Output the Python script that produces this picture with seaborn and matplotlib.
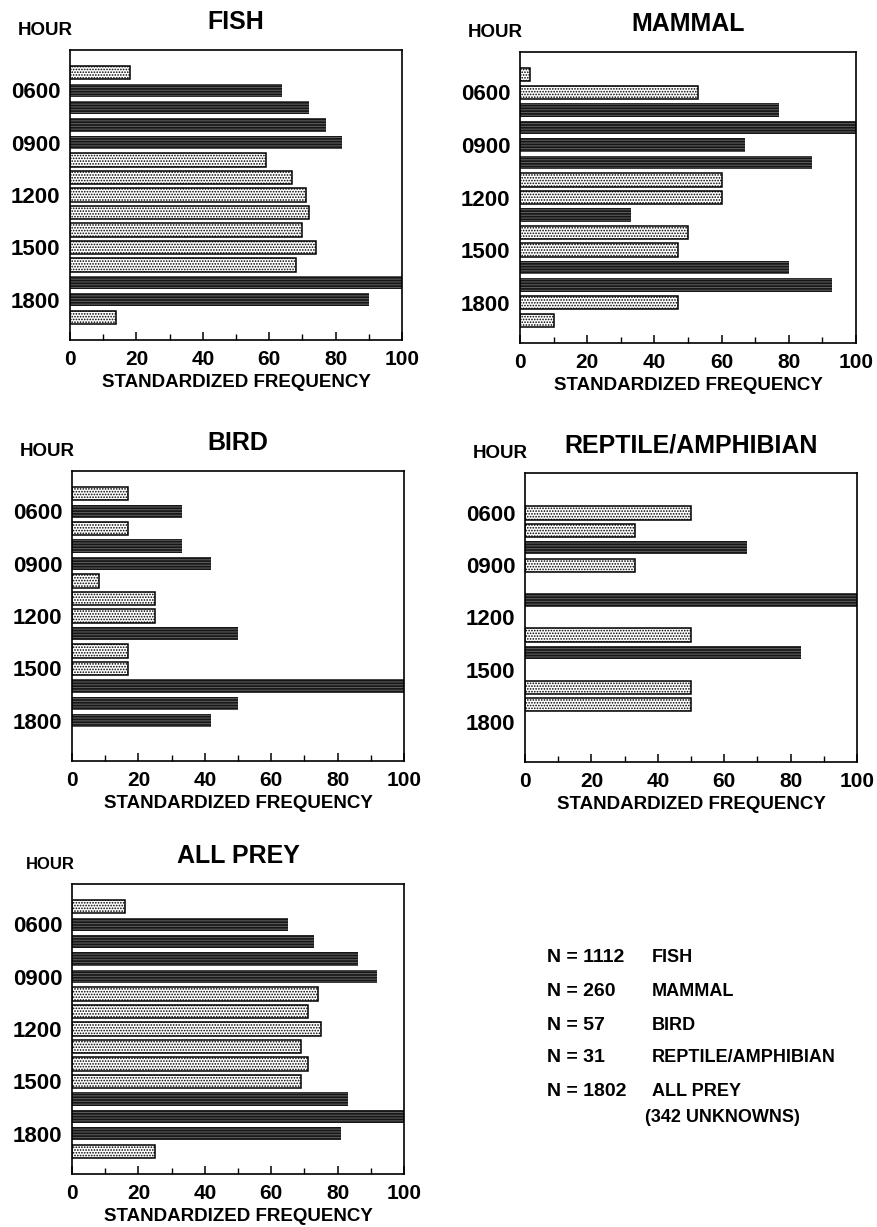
import numpy as np
import pandas as pd
import matplotlib
matplotlib.use("Agg")
import matplotlib.pyplot as plt
from matplotlib.ticker import MultipleLocator
import seaborn as sns

hours = ["0500", "0600", "0700", "0800", "0900", "1000", "1100", "1200",
         "1300", "1400", "1500", "1600", "1700", "1800", "1900"]
tick_hours = ["0600", "0900", "1200", "1500", "1800"]

# standardized frequency per hour (None = no bar); shade: D = dark, L = light
fish_vals = [18, 64, 72, 77, 82, 59, 67, 71, 72, 70, 74, 68, 100, 90, 14]
fish_shade = list("LDDDDLLLLLLLDDL")
mammal_vals = [3, 53, 77, 100, 67, 87, 60, 60, 33, 50, 47, 80, 93, 47, 10]
mammal_shade = list("LLDDDDLLDLLDDLL")
bird_vals = [17, 33, 17, 33, 42, 8, 25, 25, 50, 17, 17, 100, 50, 42, None]
bird_shade = list("LDLDDLLLDLLDDDL")
rept_vals = [None, 50, 33, 67, 33, None, 100, None, 50, 83, None, 50, 50, None, None]
rept_shade = list("LLLDLLDLLDLLLLL")
all_vals = [16, 65, 73, 86, 92, 74, 71, 75, 69, 71, 69, 83, 100, 81, 25]
all_shade = list("LDDDDLLLLLLDDDL")

titles = ["FISH", "MAMMAL", "BIRD", "REPTILE/AMPHIBIAN", "ALL PREY"]
series = [(fish_vals, fish_shade), (mammal_vals, mammal_shade),
          (bird_vals, bird_shade), (rept_vals, rept_shade),
          (all_vals, all_shade)]

n_counts = ["N = 1112", "N = 260", "N = 57", "N = 31", "N = 1802"]
n_names = ["FISH", "MAMMAL", "BIRD", "REPTILE/AMPHIBIAN", "ALL PREY"]
unknown_note = "(342 UNKNOWNS)"

sns.set_theme(style="white")
plt.rcParams["font.family"] = ["Liberation Sans", "DejaVu Sans"]
plt.rcParams["text.color"] = "black"
plt.rcParams["axes.labelcolor"] = "black"
plt.rcParams["xtick.color"] = "black"
plt.rcParams["ytick.color"] = "black"
plt.rcParams["hatch.linewidth"] = 0.8

W, H = 877, 1227
fig = plt.figure(figsize=(W / 100, H / 100), dpi=100)

# axes boxes in pixels: left, top, right, bottom
boxes = [(70, 50, 402, 340), (520, 52, 856, 343),
         (72, 471, 404, 761), (525, 473, 857, 762),
         (72, 884, 404, 1174)]
hour_sizes = [13.5, 13.5, 13.5, 13.5, 12]

DARK = "#161616"
for (vals, shade), title, (l, t, r, b), hs in zip(series, titles, boxes, hour_sizes):
    ax = fig.add_axes([l / W, 1 - b / H, (r - l) / W, (b - t) / H])
    df = pd.DataFrame({"hour": hours, "value": vals, "shade": shade})
    df = df.dropna(subset=["value"])
    sns.barplot(data=df, x="value", y="hour", hue="shade", order=hours,
                hue_order=["D", "L"], palette={"D": DARK, "L": "white"},
                dodge=False, orient="h", width=0.76, legend=False, ax=ax)
    for p in ax.patches:
        fc = p.get_facecolor()
        if fc[0] > 0.9:
            p.set_hatch("......")
            p.set_edgecolor("black")
            p.set_linewidth(1.1)
        else:
            p.set_hatch("------")
            p.set_edgecolor("#5a5a5a")
            p.set_linewidth(0)
    ax.set_xlim(0, 100)
    ax.set_ylim(len(hours) - 1 + 1.3, -1.3)
    ax.set_yticks([hours.index(h) for h in tick_hours])
    ax.set_yticklabels(tick_hours)
    ax.xaxis.set_major_locator(MultipleLocator(20))
    ax.xaxis.set_minor_locator(MultipleLocator(10))
    ax.tick_params(axis="x", which="major", direction="in", length=6,
                   width=1.1, color="black", bottom=True, pad=7,
                   labelsize=15)
    ax.tick_params(axis="x", which="minor", direction="in", length=4,
                   width=1.0, color="black", bottom=True)
    ax.tick_params(axis="y", length=0, pad=7, labelsize=16)
    for lab in ax.get_xticklabels() + ax.get_yticklabels():
        lab.set_fontweight("bold")
    for s in ax.spines.values():
        s.set_visible(True)
        s.set_color("black")
        s.set_linewidth(1.2)
    ax.set_ylabel("")
    ax.set_xlabel("STANDARDIZED FREQUENCY", fontsize=13.5, fontweight="bold",
                  labelpad=4)
    ax.set_title(title, fontsize=18, fontweight="bold", pad=15)
    ax.annotate("HOUR", xy=(0, 1), xycoords="axes fraction",
                xytext=(2, 14), textcoords="offset points",
                ha="right", va="center", fontsize=hs, fontweight="bold")

# sample-size listing
ys = [957, 992, 1025, 1058, 1092]
for cnt, name, y in zip(n_counts, n_names, ys):
    fig.text(547 / W, 1 - y / H, cnt, fontsize=14, fontweight="bold",
             ha="left", va="center")
    fig.text(652 / W, 1 - y / H, name, fontsize=13, fontweight="bold",
             ha="left", va="center")
fig.text(645 / W, 1 - 1117 / H, unknown_note, fontsize=13, fontweight="bold",
         ha="left", va="center")

fig.savefig("out.png", dpi=100, facecolor="white")
